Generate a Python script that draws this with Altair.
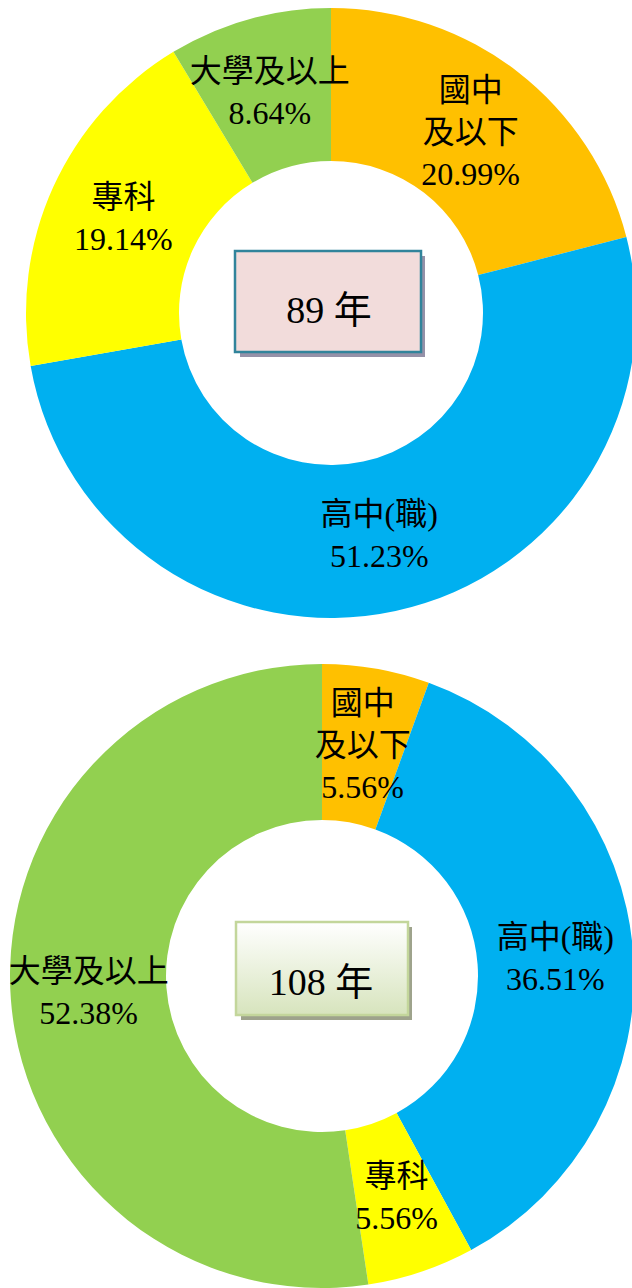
import altair as alt
import pandas as pd

categories = ["國中及以下", "高中(職)", "專科", "大學及以上"]
label_names = ["國中\n及以下", "高中(職)", "專科", "大學及以上"]
pct_89 = [20.99, 51.23, 19.14, 8.64]
pct_108 = [5.56, 36.51, 5.56, 52.38]
colors = ["#FFC000", "#00B0F0", "#FFFF00", "#92D050"]
years = ["89 年", "108 年"]

FONT = "Liberation Serif, Noto Sans CJK TC, serif"
LH = 42


def frame(vals):
    return pd.DataFrame({"cat": categories, "name": label_names,
                         "pct": vals, "idx": list(range(len(categories)))})


def donut(df, cx, cy, r_out, r_in, r_lab):
    arcs = alt.Chart(df).mark_arc(radius=r_out, radius2=r_in).encode(
        theta=alt.Theta("pct:Q", stack=True),
        order=alt.Order("idx:Q"),
        x=alt.value(cx),
        y=alt.value(cy),
        color=alt.Color("cat:N", scale=alt.Scale(domain=categories, range=colors), legend=None),
    )
    texts = (
        alt.Chart(df)
        .transform_joinaggregate(total="sum(pct)")
        .transform_window(cum="sum(pct)", sort=[alt.SortField("idx")])
        .transform_calculate(label="datum.name + '\\n' + format(datum.pct, '.2f') + '%'")
        .transform_calculate(ang="(datum.cum - datum.pct / 2) / datum.total * 2 * PI")
        .transform_calculate(nl="length(split(datum.name, '\\n'))")
        .transform_calculate(px=f"{cx} + {r_lab} * sin(datum.ang)")
        .transform_calculate(py=f"{cy} - {r_lab} * cos(datum.ang) - datum.nl * {LH} / 2")
        .mark_text(fontSize=32, font=FONT, lineBreak="\n", lineHeight=LH,
                   align="center", baseline="middle", color="black")
        .encode(
            x=alt.X("px:Q", scale=None, axis=None),
            y=alt.Y("py:Q", scale=None, axis=None),
            text="label:N",
        )
    )
    return arcs, texts


def center_box(label, x0, y0, x1, y1, fill, stroke, shadow, tx, ty):
    d = pd.DataFrame({"t": [label]})
    sh = alt.Chart(d).mark_rect(fill=shadow).encode(
        x=alt.value(x0 + 5), x2=alt.value(x1 + 4), y=alt.value(y0 + 5), y2=alt.value(y1 + 5))
    box = alt.Chart(d).mark_rect(fill=fill, stroke=stroke, strokeWidth=2.5).encode(
        x=alt.value(x0), x2=alt.value(x1), y=alt.value(y0), y2=alt.value(y1))
    txt = alt.Chart(d).mark_text(fontSize=38, font=FONT, align="center",
                                 baseline="alphabetic", color="black").encode(
        text="t:N", x=alt.value(tx), y=alt.value(ty))
    return [sh, box, txt]


a1, t1 = donut(frame(pct_89), 331, 313, 305, 152, 228)
a2, t2 = donut(frame(pct_108), 322, 976, 312, 156, 234)

grad = alt.Gradient(gradient="linear", x1=0, x2=0, y1=0, y2=1,
                    stops=[alt.GradientStop(color="#FFFFFF", offset=0),
                           alt.GradientStop(color="#D7E4BD", offset=1)])

layers = [a1, a2, t1, t2]
layers += center_box(years[0], 235, 251, 421, 352, "#F2DCDB", "#31849B", "#9591A8", 329, 323)
layers += center_box(years[1], 236, 922, 408, 1015, grad, "#C3D69B", "#9EA38C", 321, 995)

chart = alt.layer(*layers).resolve_scale(theta="independent").properties(
    width=632, height=1288,
    autosize=alt.AutoSizeParams(type="none"),
    padding=0,
).configure_view(stroke=None)

chart.save("out.html", embed_options={"renderer": "svg", "actions": False})
